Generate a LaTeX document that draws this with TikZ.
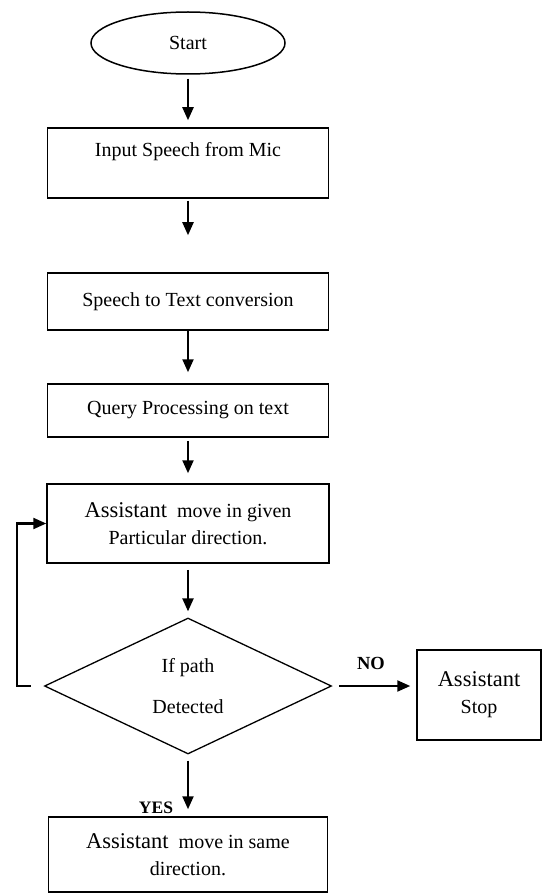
\documentclass[tikz,border=0pt]{standalone}
\usepackage{fontspec}
\setmainfont{Liberation Serif}
\usetikzlibrary{shapes.geometric,arrows.meta}

\newcommand{\bigword}[1]{{\fontsize{22.5}{27}\selectfont #1}}

\begin{document}
\begin{tikzpicture}[x=1pt, y=-1pt,
		box/.style={draw, rectangle, line width=1.5pt, inner sep=0pt, align=center,
			font=\fontsize{20}{27}\selectfont},
		flow/.style={line width=2.2pt, -{Triangle[length=13pt,width=11pt]}},
		lbl/.style={inner sep=0pt, font=\bfseries\fontsize{18.5}{20}\selectfont}]
		\useasboundingbox ( 0, 0 ) rectangle ( 542, 893 );

		% начало
		\node [box, ellipse, minimum width=194pt, minimum height=62pt] (start) at ( 188, 43 ) {Start};

		% ввод речи
		\node [box, minimum width=281pt, minimum height=70pt, text height=14pt, text depth=27pt] (mic) at ( 188, 163 ) {Input Speech from Mic};

		% распознавание
		\node [box, minimum width=281pt, minimum height=57pt] (stt) at ( 188, 301.5 ) {Speech to Text conversion};

		% обработка запроса
		\node [box, minimum width=281pt, minimum height=53pt] (query) at ( 188, 410.5 ) {Query Processing on text};

		% движение
		\node [box, minimum width=282pt, minimum height=79pt] (move) at ( 188, 523.5 ) {\bigword{Assistant}\ \ move in given\\Particular direction.};

		% проверка пути
		\node [box, diamond, line width=1.3pt, minimum width=287pt, minimum height=136pt] (path) at ( 188, 686 ) {If path\\[14pt]Detected};

		% остановка
		\node [box, minimum width=124pt, minimum height=90pt] (stop) at ( 479, 695 ) {\bigword{Assistant}\\Stop};

		% то же направление
		\node [box, minimum width=279pt, minimum height=75pt] (same) at ( 188, 854.5 ) {\bigword{Assistant}\ \ move in same\\direction.};

		% подписи
		\node [lbl] (no) at ( 371, 663 ) {NO};
		\node [lbl, font=\bfseries\fontsize{17.5}{20}\selectfont] (yes) at ( 156, 808 ) {YES};

		% стрелки
		\draw [flow, shorten <=4pt, shorten >=7pt] (start) -- (mic);
		\draw [flow, shorten <=2pt, shorten >=37pt] (mic) -- (stt);
		\draw [flow, shorten >=11pt] (stt) -- (query);
		\draw [flow, shorten <=3pt, shorten >=10pt] (query) -- (move);
		\draw [flow, shorten <=6pt, shorten >=6pt] (move) -- (path);
		\draw [flow, shorten <=6pt, shorten >=7pt] (path) -- (same);
		\draw [flow, shorten <=7pt, shorten >=6pt] (path.east) -- (path.east -| stop.west);
		\draw [flow, shorten <=13pt] (path.west) -- ++( -27, 0 ) |- (move.west);
	\end{tikzpicture}
\end{document}
